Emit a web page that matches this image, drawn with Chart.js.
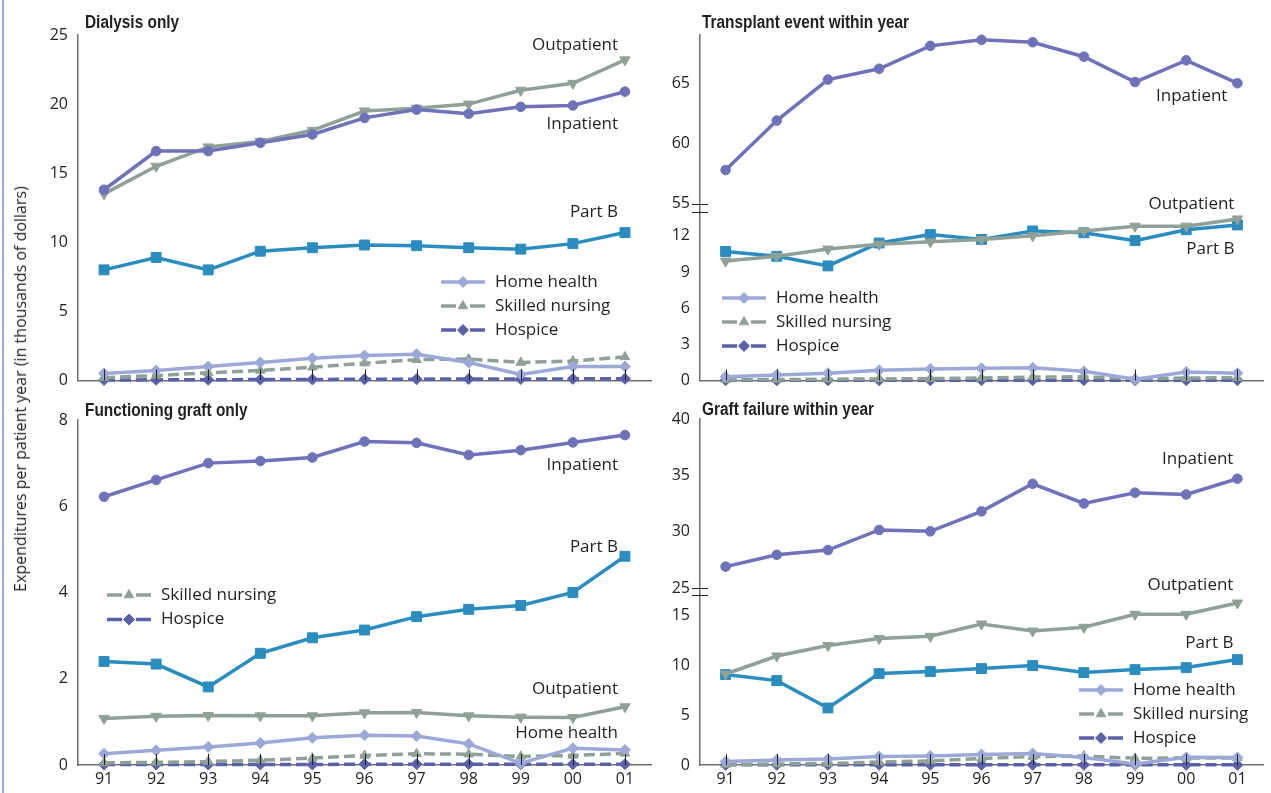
<!DOCTYPE html>
<html>
<head>
<meta charset="utf-8">
<title>Medicare expenditures per patient year</title>
<script src="https://cdn.jsdelivr.net/npm/chart.js@4.4.1/dist/chart.umd.min.js"></script>
<style>
  html, body { margin: 0; padding: 0; background: #fff; }
  #page { position: relative; width: 1271px; height: 793px; overflow: hidden; background: #fff; }
  #edge { position: absolute; left: 2px; top: 0; width: 2px; height: 793px; background: #a3a7db; }
  canvas { position: absolute; }
  #cTL { left: 0; top: 0; }
  #cTR { left: 630px; top: 0; }
  #cBL { left: 0; top: 390px; }
  #cBR { left: 630px; top: 390px; }
  .ptitle {
    position: absolute; font: bold 17.5px "Liberation Sans", Arial, sans-serif; color: #231f20;
    line-height: 20px; white-space: nowrap; transform: scaleX(0.88); transform-origin: left center;
  }
  #yTitle {
    position: absolute; left: 20px; top: 389px; white-space: nowrap;
    font: 16px "Open Sans", sans-serif; color: #231f20;
    transform: translate(-50%, -50%) rotate(-90deg);
  }
</style>
</head>
<body>
<div id="page">
  <div id="edge"></div>
  <canvas id="cTL" width="660" height="400"></canvas>
  <canvas id="cTR" width="641" height="400"></canvas>
  <canvas id="cBL" width="660" height="403"></canvas>
  <canvas id="cBR" width="641" height="403"></canvas>
  <div class="ptitle" style="left:85px; top:12px;">Dialysis only</div>
  <div class="ptitle" style="left:702px; top:12px;">Transplant event within year</div>
  <div class="ptitle" style="left:85px; top:400px;">Functioning graft only</div>
  <div class="ptitle" style="left:702px; top:399px;">Graft failure within year</div>
  <div id="yTitle">Expenditures per patient year (in thousands of dollars)</div>
</div>
<script>
// Calendar years 1991-2001
const years = ['91', '92', '93', '94', '95', '96', '97', '98', '99', '00', '01'];

// Value-axis tick labels
const dialysisTicks        = [0, 5, 10, 15, 20, 25];
const transplantTicksLow   = [0, 3, 6, 9, 12];
const transplantTicksHigh  = [55, 60, 65];
const graftTicks           = [0, 2, 4, 6, 8];
const failureTicksLow      = [0, 5, 10, 15];
const failureTicksHigh     = [25, 30, 35, 40];

// Dialysis only (thousands of dollars)
const dialysisInpatient  = [13.8, 16.6, 16.6, 17.2, 17.8, 19.0, 19.6, 19.3, 19.8, 19.9, 20.9];
const dialysisOutpatient = [13.5, 15.5, 16.9, 17.3, 18.1, 19.5, 19.7, 20.0, 21.0, 21.5, 23.2];
const dialysisPartB      = [8.0, 8.9, 8.0, 9.35, 9.6, 9.8, 9.75, 9.6, 9.5, 9.9, 10.7];
const dialysisHomeHealth = [0.5, 0.72, 1.0, 1.3, 1.6, 1.8, 1.9, 1.3, 0.43, 1.0, 1.0];
const dialysisSkilled    = [0.2, 0.35, 0.55, 0.72, 0.95, 1.25, 1.5, 1.55, 1.3, 1.4, 1.7];
const dialysisHospice    = [0.03, 0.04, 0.05, 0.06, 0.07, 0.08, 0.09, 0.1, 0.1, 0.11, 0.12];

// Transplant event within year
const transplantInpatient  = [57.8, 61.9, 65.3, 66.2, 68.1, 68.6, 68.4, 67.2, 65.1, 66.9, 65.0];
const transplantOutpatient = [9.9, 10.3, 10.9, 11.3, 11.5, 11.7, 12.0, 12.4, 12.8, 12.8, 13.4];
const transplantPartB      = [10.7, 10.3, 9.5, 11.4, 12.1, 11.7, 12.4, 12.25, 11.6, 12.5, 12.9];
const transplantHomeHealth = [0.3, 0.45, 0.6, 0.85, 0.95, 1.0, 1.05, 0.75, 0.1, 0.7, 0.6];
const transplantSkilled    = [0.05, 0.07, 0.1, 0.12, 0.15, 0.2, 0.28, 0.3, 0.15, 0.2, 0.22];
const transplantHospice    = [0.01, 0.01, 0.01, 0.01, 0.01, 0.02, 0.02, 0.02, 0.02, 0.02, 0.02];

// Functioning graft only
const graftInpatient  = [6.22, 6.61, 7.0, 7.05, 7.13, 7.5, 7.47, 7.19, 7.3, 7.48, 7.65];
const graftOutpatient = [1.08, 1.13, 1.15, 1.14, 1.14, 1.21, 1.22, 1.14, 1.11, 1.1, 1.35];
const graftPartB      = [2.4, 2.34, 1.81, 2.59, 2.95, 3.13, 3.44, 3.61, 3.7, 4.0, 4.84];
const graftHomeHealth = [0.26, 0.34, 0.42, 0.51, 0.63, 0.69, 0.67, 0.49, 0.04, 0.39, 0.35];
const graftSkilled    = [0.05, 0.06, 0.08, 0.11, 0.16, 0.22, 0.26, 0.25, 0.2, 0.22, 0.27];
const graftHospice    = [0.01, 0.01, 0.01, 0.01, 0.01, 0.02, 0.02, 0.02, 0.02, 0.02, 0.02];

// Graft failure within year
const failureInpatient  = [26.9, 27.95, 28.37, 30.15, 30.03, 31.8, 34.25, 32.5, 33.46, 33.3, 34.7];
const failureOutpatient = [9.1, 10.9, 11.94, 12.64, 12.87, 14.1, 13.4, 13.77, 15.07, 15.07, 16.2];
const failurePartB      = [9.04, 8.44, 5.7, 9.14, 9.34, 9.64, 9.94, 9.24, 9.54, 9.74, 10.54];
const failureHomeHealth = [0.35, 0.5, 0.6, 0.85, 0.9, 1.04, 1.14, 0.75, 0.1, 0.77, 0.75];
const failureSkilled    = [0.05, 0.1, 0.15, 0.3, 0.4, 0.65, 0.85, 0.9, 0.67, 0.7, 0.7];
const failureHospice    = [0.02, 0.02, 0.02, 0.02, 0.02, 0.02, 0.02, 0.02, 0.02, 0.02, 0.02];

// ---- look ----
const TEXT = '#231f20';
const AXIS = '#6d6e71';
const TICK_FONT = { family: '"Open Sans", sans-serif', size: 16 };
const LABEL_FONT = '17px "Open Sans", sans-serif';

const SERIES_STYLE = {
  inpatient:  { label: 'Inpatient',       color: '#6e72b8', pointStyle: 'circle',   radius: 4.8, rotation: 0,   dash: [] },
  outpatient: { label: 'Outpatient',      color: '#8fa197', pointStyle: 'triangle', radius: 6,   rotation: 180, dash: [] },
  partB:      { label: 'Part B',          color: '#2a8cbf', pointStyle: 'rect',     radius: 7,   rotation: 0,   dash: [] },
  home:       { label: 'Home health',     color: '#9ca9d8', pointStyle: 'rectRot',  radius: 5.5, rotation: 0,   dash: [] },
  skilled:    { label: 'Skilled nursing', color: '#8fa197', pointStyle: 'triangle', radius: 5.5, rotation: 0,   dash: [11, 5] },
  hospice:    { label: 'Hospice',         color: '#5b61a9', pointStyle: 'rectRot',  radius: 5.5, rotation: 0,   dash: [11, 5] }
};

function series(key, values, axis) {
  const s = SERIES_STYLE[key];
  return {
    label: s.label,
    data: values,
    yAxisID: axis || 'y',
    borderColor: s.color,
    backgroundColor: s.color,
    borderWidth: 3.5,
    borderDash: s.dash,
    pointStyle: s.pointStyle,
    pointRotation: s.rotation,
    pointRadius: s.radius,
    pointBorderWidth: 1,
    pointBackgroundColor: s.color,
    pointBorderColor: s.color,
    tension: 0,
    clip: false
  };
}

// small inward tick marks on the category axis
const innerTicks = {
  id: 'innerTicks',
  afterDatasetsDraw(chart) {
    const xs = chart.scales.x;
    const bottom = chart.chartArea.bottom;
    const ctx = chart.ctx;
    ctx.save();
    ctx.strokeStyle = TEXT;
    ctx.lineWidth = 1;
    ctx.beginPath();
    xs.ticks.forEach((t, i) => {
      const x = Math.round(xs.getPixelForTick(i)) + 0.5;
      ctx.moveTo(x, bottom);
      ctx.lineTo(x, bottom - 11);
    });
    ctx.stroke();
    ctx.restore();
  }
};

// series names written beside the last point of each line
const seriesLabels = {
  id: 'seriesLabels',
  afterDatasetsDraw(chart, _args, opts) {
    const items = opts.items || [];
    const ctx = chart.ctx;
    ctx.save();
    ctx.font = LABEL_FONT;
    ctx.fillStyle = TEXT;
    ctx.textAlign = 'right';
    ctx.textBaseline = 'middle';
    items.forEach(it => {
      const meta = chart.getDatasetMeta(it.dataset);
      const pt = meta.data[meta.data.length - 1];
      ctx.fillText(it.text, pt.x + it.dx, pt.y + it.dy);
    });
    ctx.restore();
  }
};

function markerPath(ctx, style, x, y, r, rotation) {
  ctx.beginPath();
  if (style === 'rectRot') {
    ctx.moveTo(x, y - r); ctx.lineTo(x + r, y); ctx.lineTo(x, y + r); ctx.lineTo(x - r, y);
  } else if (style === 'triangle') {
    const dir = rotation === 180 ? -1 : 1;
    ctx.moveTo(x, y - dir * r);
    ctx.lineTo(x + r * 0.866, y + dir * r * 0.5);
    ctx.lineTo(x - r * 0.866, y + dir * r * 0.5);
  } else if (style === 'rect') {
    const h = r * Math.SQRT1_2;
    ctx.rect(x - h, y - h, 2 * h, 2 * h);
  } else {
    ctx.arc(x, y, r, 0, Math.PI * 2);
  }
  ctx.closePath();
}

// key box: line sample with its marker, then the name
const seriesKey = {
  id: 'seriesKey',
  afterDatasetsDraw(chart, _args, opts) {
    const items = opts.items || [];
    if (!items.length) return;
    const ctx = chart.ctx;
    const area = chart.chartArea;
    const len = 44;
    items.forEach((idx, row) => {
      const ds = chart.data.datasets[idx];
      const x0 = area.left + opts.x;
      const y = area.top + opts.y + row * opts.rowGap;
      ctx.save();
      ctx.strokeStyle = ds.borderColor;
      ctx.lineWidth = ds.borderWidth;
      ctx.setLineDash(ds.borderDash && ds.borderDash.length ? [15, 14] : []);
      ctx.beginPath();
      ctx.moveTo(x0, y);
      ctx.lineTo(x0 + len, y);
      ctx.stroke();
      ctx.setLineDash([]);
      ctx.fillStyle = ds.pointBackgroundColor;
      ctx.lineWidth = 1;
      markerPath(ctx, ds.pointStyle, x0 + len / 2, y, ds.pointRadius, ds.pointRotation);
      ctx.fill();
      ctx.stroke();
      ctx.font = LABEL_FONT;
      ctx.fillStyle = TEXT;
      ctx.textAlign = 'left';
      ctx.textBaseline = 'middle';
      ctx.fillText(ds.label, x0 + len + 10, y);
      ctx.restore();
    });
  }
};

// double stroke marking the gap in a split value axis
const axisBreak = {
  id: 'axisBreak',
  afterDraw(chart, _args, opts) {
    if (!opts.upper) return;
    const up = chart.scales[opts.upper];
    const low = chart.scales[opts.lower];
    const x = chart.chartArea.left;
    const ctx = chart.ctx;
    const ys = [Math.round(up.getPixelForValue(up.ticks[0].value)) + 0.5, Math.round(low.top) + 0.5];
    ctx.save();
    ctx.strokeStyle = TEXT;
    ctx.lineWidth = 1.2;
    ctx.beginPath();
    ys.forEach(y => { ctx.moveTo(x - 8, y); ctx.lineTo(x + 8, y); });
    ctx.stroke();
    ctx.restore();
  }
};

function valueAxis(width, tickValues, extra) {
  return Object.assign({
    type: 'linear',
    position: 'left',
    bounds: 'data',
    grid: { display: false, drawTicks: false },
    border: { display: true, color: AXIS, width: 1.5 },
    ticks: { color: TEXT, font: TICK_FONT, padding: 10, autoSkip: false },
    afterBuildTicks(s) { s.ticks = tickValues.map(v => ({ value: v })); },
    afterFit(s) { s.width = width; }
  }, extra);
}

function yearAxis(height, showLabels) {
  return {
    type: 'category',
    offset: true,
    grid: { display: false, drawTicks: false },
    border: { display: true, color: AXIS, width: 1.5 },
    ticks: { display: showLabels, color: TEXT, font: TICK_FONT, padding: 5, maxRotation: 0, autoSkip: false },
    afterFit(s) { s.height = height; }
  };
}

function panel(id, datasets, scales, padding, pluginOpts) {
  return new Chart(document.getElementById(id), {
    type: 'line',
    data: { labels: years, datasets },
    options: {
      responsive: false,
      animation: false,
      devicePixelRatio: 1,
      layout: { padding },
      scales,
      plugins: Object.assign({ legend: { display: false }, tooltip: { enabled: false } }, pluginOpts)
    },
    plugins: [innerTicks, seriesLabels, seriesKey, axisBreak]
  });
}

// Dialysis only
panel('cTL', [
  series('inpatient', dialysisInpatient),
  series('outpatient', dialysisOutpatient),
  series('partB', dialysisPartB),
  series('home', dialysisHomeHealth),
  series('skilled', dialysisSkilled),
  series('hospice', dialysisHospice)
], {
  x: yearAxis(19, false),
  y: valueAxis(78, dialysisTicks, { min: 0, max: 25 })
}, { top: 35, right: 9, left: 0, bottom: 0 }, {
  seriesLabels: { items: [
    { text: 'Outpatient', dataset: 1, dx: -7, dy: -15 },
    { text: 'Inpatient', dataset: 0, dx: -7, dy: 33 },
    { text: 'Part B', dataset: 2, dx: -7, dy: -20 }
  ] },
  seriesKey: { items: [3, 4, 5], x: 363, y: 247, rowGap: 24 }
});

// Transplant event within year (split value axis: lower part listed first, drawn at the bottom)
panel('cTR', [
  series('inpatient', transplantInpatient, 'yTop'),
  series('outpatient', transplantOutpatient),
  series('partB', transplantPartB),
  series('home', transplantHomeHealth),
  series('skilled', transplantSkilled),
  series('hospice', transplantHospice)
], {
  x: yearAxis(19, false),
  y: valueAxis(70, transplantTicksLow, { min: 0, max: 14, stack: 'split', stackWeight: 169 }),
  yTop: valueAxis(70, transplantTicksHigh, { min: 54.34, max: 69, stack: 'split', stackWeight: 177 })
}, { top: 35, right: 0, left: 0, bottom: 0 }, {
  seriesLabels: { items: [
    { text: 'Inpatient', dataset: 0, dx: -10, dy: 13 },
    { text: 'Outpatient', dataset: 1, dx: -3, dy: -15 },
    { text: 'Part B', dataset: 2, dx: -3, dy: 24 }
  ] },
  seriesKey: { items: [3, 4, 5], x: 22, y: 263, rowGap: 24 },
  axisBreak: { upper: 'yTop', lower: 'y' }
});

// Functioning graft only
panel('cBL', [
  series('inpatient', graftInpatient),
  series('outpatient', graftOutpatient),
  series('partB', graftPartB),
  series('home', graftHomeHealth),
  series('skilled', graftSkilled),
  series('hospice', graftHospice)
], {
  x: yearAxis(28, true),
  y: valueAxis(78, graftTicks, { min: 0, max: 8 })
}, { top: 30, right: 9, left: 0, bottom: 0 }, {
  seriesLabels: { items: [
    { text: 'Inpatient', dataset: 0, dx: -7, dy: 30 },
    { text: 'Part B', dataset: 2, dx: -7, dy: -9 },
    { text: 'Outpatient', dataset: 1, dx: -7, dy: -18 },
    { text: 'Home health', dataset: 3, dx: -7, dy: -17 }
  ] },
  seriesKey: { items: [4, 5], x: 29, y: 175, rowGap: 24.5 }
});

// Graft failure within year (split value axis)
panel('cBR', [
  series('inpatient', failureInpatient, 'yTop'),
  series('outpatient', failureOutpatient),
  series('partB', failurePartB),
  series('home', failureHomeHealth),
  series('skilled', failureSkilled),
  series('hospice', failureHospice)
], {
  x: yearAxis(28, true),
  y: valueAxis(70, failureTicksLow, { min: 0, max: 17, stack: 'split', stackWeight: 170 }),
  yTop: valueAxis(70, failureTicksHigh, { min: 24.38, max: 40, stack: 'split', stackWeight: 176 })
}, { top: 29, right: 0, left: 0, bottom: 0 }, {
  seriesLabels: { items: [
    { text: 'Inpatient', dataset: 0, dx: -4, dy: -20 },
    { text: 'Outpatient', dataset: 1, dx: -4, dy: -18 },
    { text: 'Part B', dataset: 2, dx: -4, dy: -16 }
  ] },
  seriesKey: { items: [3, 4, 5], x: 379, y: 271, rowGap: 24 },
  axisBreak: { upper: 'yTop', lower: 'y' }
});
</script>
</body>
</html>
